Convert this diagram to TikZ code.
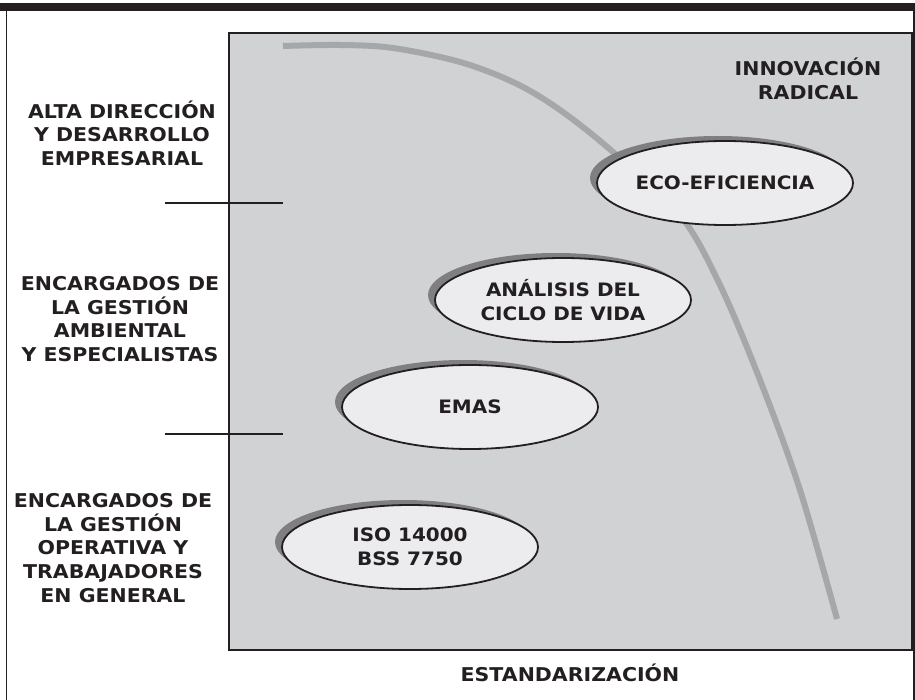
\documentclass[tikz,border=0pt]{standalone}
\usepackage{fontspec}
\setmainfont{DejaVu Sans}[FakeStretch=1.08]
\usetikzlibrary{shapes.geometric,shadows}
\definecolor{inkdark}{HTML}{231F20}
\definecolor{panelgray}{HTML}{D1D2D4}
\definecolor{ellfill}{HTML}{ECECEE}
\definecolor{shadowgray}{HTML}{7F7F82}
\definecolor{curvegray}{HTML}{A6A7AA}
\tikzset{
  lbl/.style={align=center, text=inkdark, font=\bfseries\fontsize{19}{23.6}\selectfont, inner sep=0pt},
  ell/.style={ellipse, draw=inkdark, line width=1.8pt, fill=ellfill, minimum width=256pt, minimum height=84pt, inner sep=0pt,
    align=center, text=inkdark, font=\bfseries\fontsize{18.5}{23.5}\selectfont,
    general shadow={fill=shadowgray, draw=none, shadow xshift=-7pt, shadow yshift=5pt}},
  tick/.style={draw=inkdark, line width=1.6pt},
  curveline/.style={draw=curvegray, line width=6pt}
}
\begin{document}
\begin{tikzpicture}[x=1pt,y=-1pt]
\useasboundingbox (0,0) rectangle (915,700);
% top bar and frame
\fill[inkdark] (0,3) rectangle (915,11);
\draw[inkdark, line width=1.5pt] (6.5,11) -- (6.5,700);
\draw[inkdark, line width=1.5pt] (914,11) -- (914,700);
% panel
\draw[draw=inkdark, line width=2.5pt, fill=panelgray] (229,33) rectangle (912,650);
% curve
\draw[curveline] plot[smooth, tension=0.55] coordinates {(283,46) (340,45) (393,48) (460,62) (515,83) (560,110) (613,152) (680,215) (720,285) (760,380) (800,490) (837,619)};
% ticks
\draw[tick] (165,203) -- (283,203);
\draw[tick] (165,434) -- (283,434);
% ellipses
\node[ell] (eco) at (725,183) {ECO-EFICIENCIA};
\node[ell] (acv) at (563,300) {ANÁLISIS DEL\\CICLO DE VIDA};
\node[ell] (emas) at (470,407) {EMAS};
\node[ell] (iso) at (410,547) {ISO 14000\\BSS 7750};
% labels
\node[lbl] (alta) at (122,133) {ALTA DIRECCIÓN\\Y DESARROLLO\\EMPRESARIAL};
\node[lbl] (amb) at (120,319) {ENCARGADOS DE\\LA GESTIÓN\\AMBIENTAL\\Y ESPECIALISTAS};
\node[lbl] (oper) at (113,548) {ENCARGADOS DE\\LA GESTIÓN\\OPERATIVA Y\\TRABAJADORES\\EN GENERAL};
\node[lbl] (innov) at (808,79) {INNOVACIÓN\\RADICAL};
\node[lbl] (estand) at (570,673) {ESTANDARIZACIÓN};
\end{tikzpicture}
\end{document}
